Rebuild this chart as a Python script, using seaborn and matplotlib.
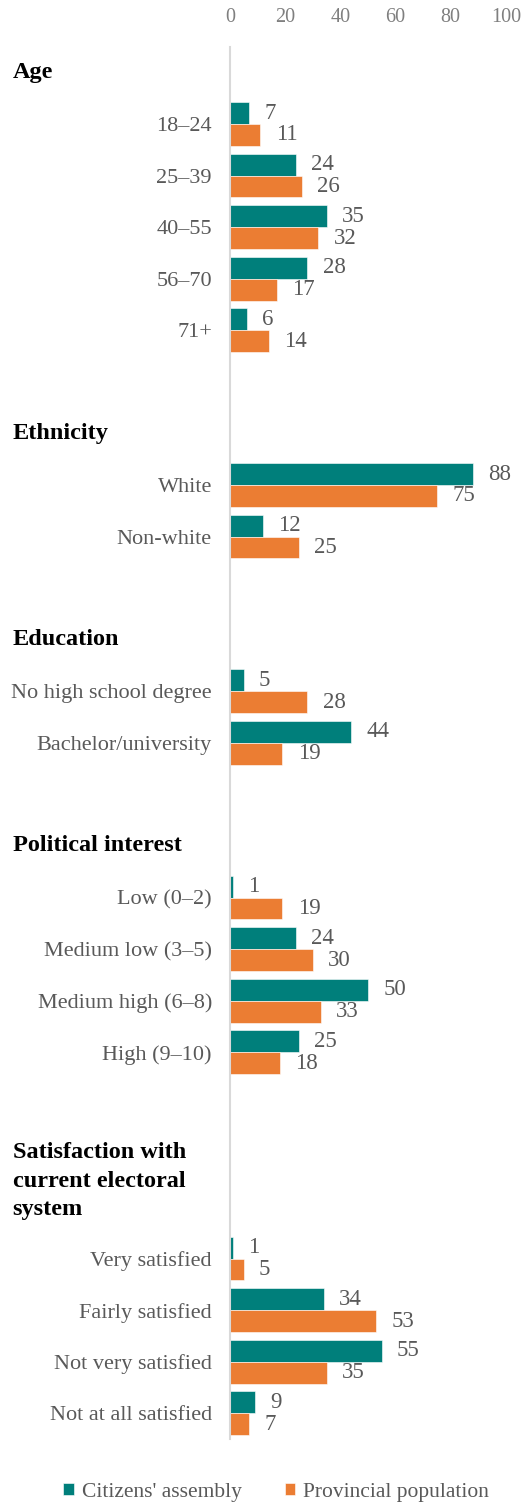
"""Citizens' assembly vs provincial population: demographic profile."""

import matplotlib
matplotlib.use("Agg")
import matplotlib.pyplot as plt
import matplotlib.transforms as mtrans
import pandas as pd
import seaborn as sns

# ---- data -------------------------------------------------------------
groups = ["Age", "Ethnicity", "Education", "Political interest",
          "Satisfaction with\ncurrent electoral\nsystem"]
group_categories = [
    ["18–24", "25–39", "40–55", "56–70", "71+"],
    ["White", "Non-white"],
    ["No high school degree", "Bachelor/university"],
    ["Low (0–2)", "Medium low (3–5)", "Medium high (6–8)", "High (9–10)"],
    ["Very satisfied", "Fairly satisfied", "Not very satisfied",
     "Not at all satisfied"],
]
assembly = [
    [7, 24, 35, 28, 6],
    [88, 12],
    [5, 44],
    [1, 24, 50, 25],
    [1, 34, 55, 9],
]
population = [
    [11, 26, 32, 17, 14],
    [75, 25],
    [28, 19],
    [19, 30, 33, 18],
    [5, 53, 35, 7],
]
series = ["Citizens' assembly", "Provincial population"]
xticks = [0, 20, 40, 60, 80, 100]

TEAL = "#007F7B"
ORANGE = "#EB7D33"
GREY = "#595959"

# ---- build long table + slot order (header rows and gaps as empty slots)
rows = []
order = []
header_pos = []
for gi, (grp, cats) in enumerate(zip(groups, group_categories)):
    n_head = grp.count("\n") // 2 + 1   # tall headers take two slots
    start = len(order)
    for h in range(n_head):
        order.append(f"_head{gi}_{h}")
    header_pos.append((grp, start + (n_head - 1) / 2))
    for ci, cat in enumerate(cats):
        order.append(cat)
        rows.append({"category": cat, "series": series[0], "value": assembly[gi][ci]})
        rows.append({"category": cat, "series": series[1], "value": population[gi][ci]})
    if gi < len(groups) - 1:
        order.append(f"_gap{gi}")
df = pd.DataFrame(rows)

# ---- plot ---------------------------------------------------------------
sns.set_theme(style="white")
plt.rcParams["font.family"] = ["Liberation Serif", "DejaVu Serif"]

fig, ax = plt.subplots(figsize=(5.27, 15.04), dpi=100)
fig.subplots_adjust(left=0.4364, right=0.960, top=0.969, bottom=0.0432)

sns.barplot(data=df, x="value", y="category", hue="series", order=order,
            hue_order=series, palette=[TEAL, ORANGE], saturation=1,
            orient="h", width=0.85, edgecolor="white", linewidth=0.4, ax=ax)

for cont in ax.containers:
    ax.bar_label(cont, fmt="%g", padding=11, fontsize=16.5, color=GREY)

ax.set_xlim(0, 100)
ax.set_ylim(len(order) - 0.5, -0.5)
ax.set_xticks(xticks)
ax.xaxis.tick_top()
ax.tick_params(axis="x", length=0, pad=14, labelsize=14.5, labelcolor="#7F7F7F")
ax.set_yticks(range(len(order)))
ax.set_yticklabels(["" if o.startswith("_") else o for o in order])
ax.tick_params(axis="y", length=0, pad=13, labelsize=16, labelcolor=GREY)
ax.set_xlabel("")
ax.set_ylabel("")

for side in ["top", "right", "bottom"]:
    ax.spines[side].set_visible(False)
ax.spines["left"].set_color("#D9D9D9")
ax.spines["left"].set_linewidth(1.5)

# group headers: x in figure coords, y in data (slot) coords
head_tr = mtrans.blended_transform_factory(fig.transFigure, ax.transData)
for text, pos in header_pos:
    ax.text(0.024, pos, text, transform=head_tr, ha="left", va="center",
            fontsize=17.5, fontweight="bold", color="black", linespacing=1.45)

handles, labels = ax.get_legend_handles_labels()
ax.get_legend().remove()
fig.legend(handles, labels, loc="center", bbox_to_anchor=(0.524, 1 - 1492 / 1504),
           ncol=2, frameon=False, fontsize=15.5, labelcolor=GREY,
           handlelength=0.5, handleheight=0.5, handletextpad=0.35,
           columnspacing=2.0)

plt.savefig("out.png", dpi=100)
plt.close()
